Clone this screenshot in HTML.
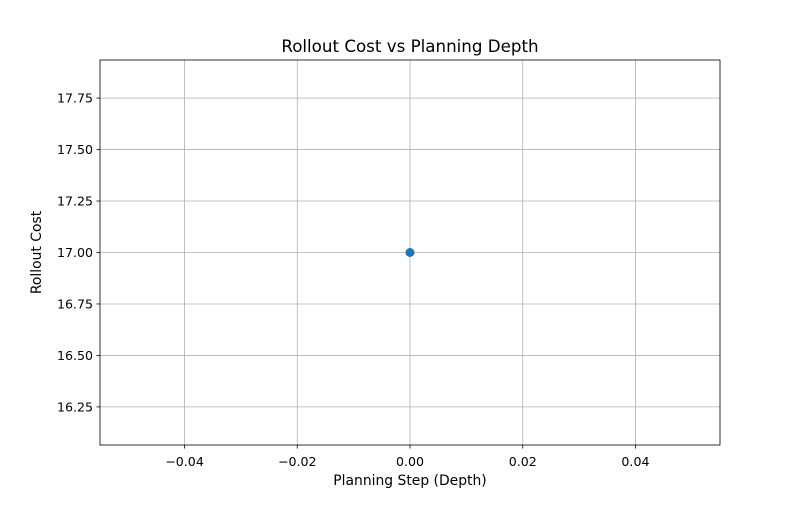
<!DOCTYPE html>
<html><head><meta charset="utf-8"><style>
body{margin:0;background:#fff}
svg text{font-family:"DejaVu Sans","Liberation Sans",sans-serif;fill:#000}
</style></head><body>
<svg id="chart" width="800" height="500" xmlns="http://www.w3.org/2000/svg">
<rect width="800" height="500" fill="#fff"/>
<g id="grid"></g>
<g id="ticks"></g>
<rect x="100" y="60" width="620" height="385" fill="none" stroke="#000" stroke-width="0.8"/>
<g id="marks"></g>
<text x="410" y="52" text-anchor="middle" font-size="16.7">Rollout Cost vs Planning Depth</text>
<text x="410" y="485" text-anchor="middle" font-size="13.9">Planning Step (Depth)</text>
<text transform="translate(41,252.5) rotate(-90)" text-anchor="middle" font-size="13.9">Rollout Cost</text>
</svg>
<script>
const depths = [0];
const costs = [17];
const xTicks = [-0.04, -0.02, 0.00, 0.02, 0.04];
const yTicks = [16.25, 16.5, 16.75, 17.0, 17.25, 17.5, 17.75];
const NS = "http://www.w3.org/2000/svg";
const L=100,R=720,T=60,B=445;
const xMin=-0.055,xMax=0.055,yMin=16.065,yMax=17.935;
const sx=v=>L+(v-xMin)/(xMax-xMin)*(R-L);
const sy=v=>B-(v-yMin)/(yMax-yMin)*(B-T);
function mk(tag,attrs,parent){const e=document.createElementNS(NS,tag);for(const k in attrs)e.setAttribute(k,attrs[k]);document.getElementById(parent).appendChild(e);return e;}
xTicks.forEach(v=>{
  const x=sx(v);
  const g=mk('line',{x1:x,x2:x,y1:T,y2:B,stroke:'#b0b0b0','stroke-width':0.8},'grid');
  
  
  mk('line',{x1:x,x2:x,y1:B,y2:B+3.5,stroke:'#000','stroke-width':0.8},'ticks');
  const t=mk('text',{x:x,y:B+21,'text-anchor':'middle','font-size':12.6},'ticks');
  t.textContent=v.toFixed(2).replace('-','\u2212');
  
  
});
yTicks.forEach(v=>{
  const y=sy(v);
  const g=mk('line',{x1:L,x2:R,y1:y,y2:y,stroke:'#b0b0b0','stroke-width':0.8},'grid');
  
  
  mk('line',{x1:L-3.5,x2:L,y1:y,y2:y,stroke:'#000','stroke-width':0.8},'ticks');
  const t=mk('text',{x:L-7,y:y+4.5,'text-anchor':'end','font-size':12.6},'ticks');
  t.textContent=v.toFixed(2);
  
  
});
if(depths.length>1){
  const p=mk('polyline',{points:depths.map((d,i)=>sx(d)+','+sy(costs[i])).join(' '),fill:'none',stroke:'#1f77b4','stroke-width':1.5},'marks');
  
  
}
depths.forEach((d,i)=>{
  const c=mk('circle',{cx:sx(d),cy:sy(costs[i]),r:4.5,fill:'#1f77b4'},'marks');
  
  
});
</script>
</body></html>
